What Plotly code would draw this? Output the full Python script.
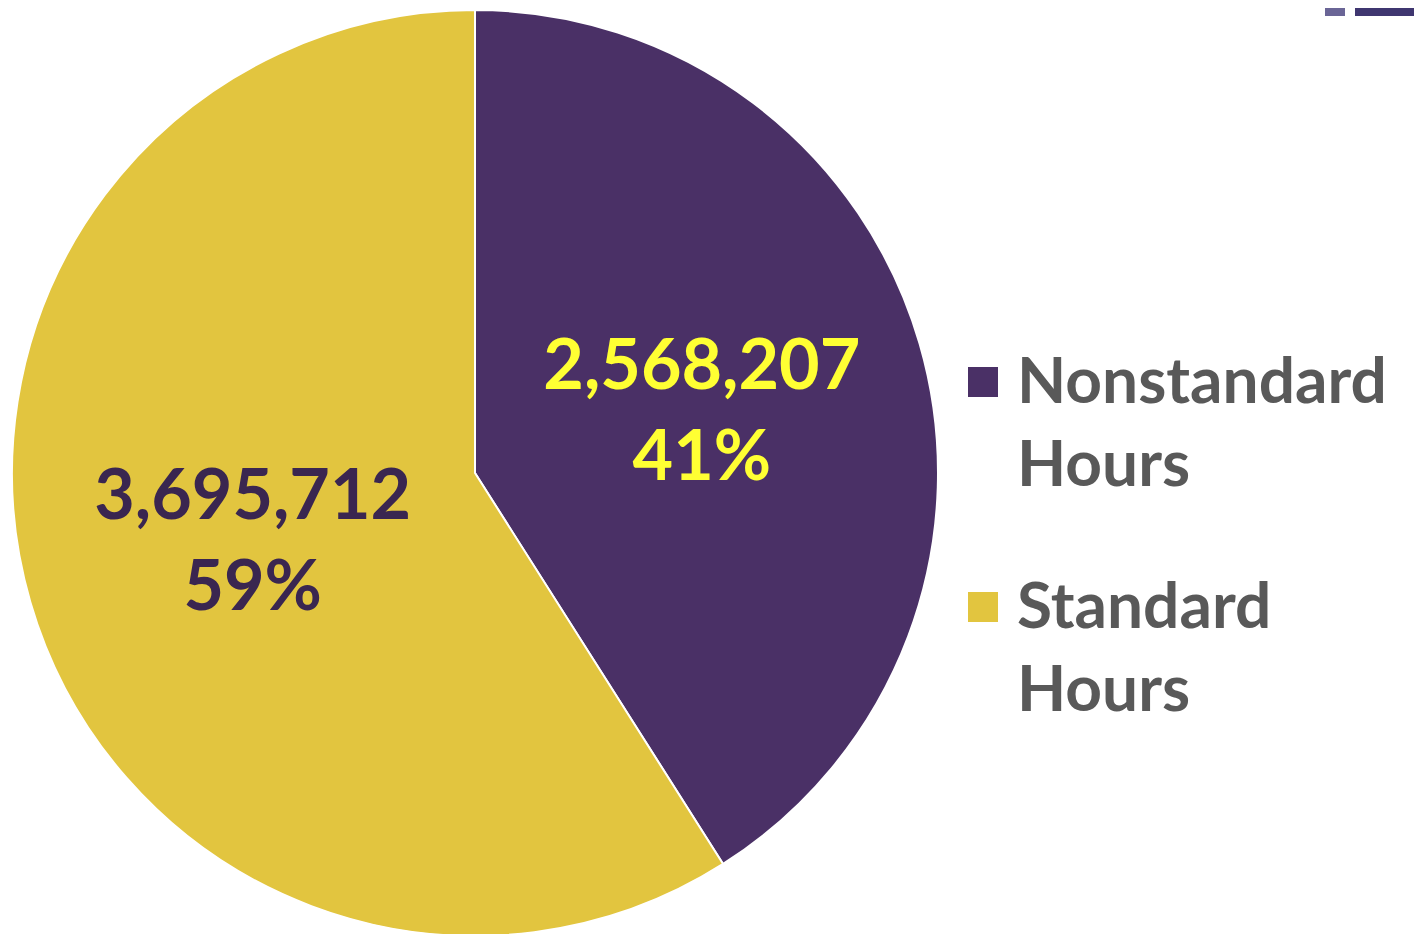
import plotly.graph_objects as go

labels = ["Nonstandard<br>Hours", "Standard<br>Hours"]
values = [2568207, 3695712]
slice_colors = ["#4a3066", "#e2c53f"]
text_colors = ["#ffff33", "#3a2650"]

FONT = "Century Gothic, Lato, sans-serif"

fig = go.Figure()
fig.add_trace(go.Pie(
    labels=labels,
    values=values,
    sort=False,
    direction="clockwise",
    rotation=0,
    marker=dict(colors=slice_colors, line=dict(color="white", width=2)),
    texttemplate="%{value:,}<br>%{percent:.0%}",
    textposition="inside",
    insidetextorientation="horizontal",
    textfont=dict(family=FONT, size=70, color=text_colors, weight="bold"),
    domain=dict(x=[4 / 1422, 930 / 1422], y=[0, 1]),
    hoverinfo="label+value+percent",
    showlegend=False,
))

# custom legend (large square keys, as in the reference)
H = 926.0
key_x0, key_x1 = 960 / 1422, 990 / 1422
key_tops = [357, 582]          # figure px of legend key tops
text_tops = [330, 555]         # figure px of legend text block tops
shapes = []
annotations = []
for i, (lab, col) in enumerate(zip(labels, slice_colors)):
    shapes.append(dict(type="rect", xref="paper", yref="paper",
                       x0=key_x0, x1=key_x1,
                       y0=1 - (key_tops[i] + 30) / H, y1=1 - key_tops[i] / H,
                       fillcolor=col, line=dict(width=0)))
    annotations.append(dict(xref="paper", yref="paper", x=1007 / 1422,
                            y=1 - (text_tops[i] - 2) / H,
                            xanchor="left", yanchor="top", align="left",
                            text=lab, showarrow=False,
                            font=dict(family=FONT, size=64, color="#595959", weight="bold")))

# decorative bars at top right
shapes += [
    dict(type="rect", xref="paper", yref="paper", x0=1317 / 1422, x1=1337 / 1422,
         y0=1 - 6 / H, y1=1 + 10 / H, fillcolor="#6a6596", line=dict(width=0), layer="above"),
    dict(type="rect", xref="paper", yref="paper", x0=1347 / 1422, x1=1.01,
         y0=1 - 6 / H, y1=1 + 10 / H, fillcolor="#3f3670", line=dict(width=0), layer="above"),
]

fig.update_layout(
    width=1422,
    height=934,
    margin=dict(l=0, r=0, t=2, b=6),
    paper_bgcolor="white",
    plot_bgcolor="white",
    showlegend=False,
    shapes=shapes,
    annotations=annotations,
)

fig.write_html("out.html")
